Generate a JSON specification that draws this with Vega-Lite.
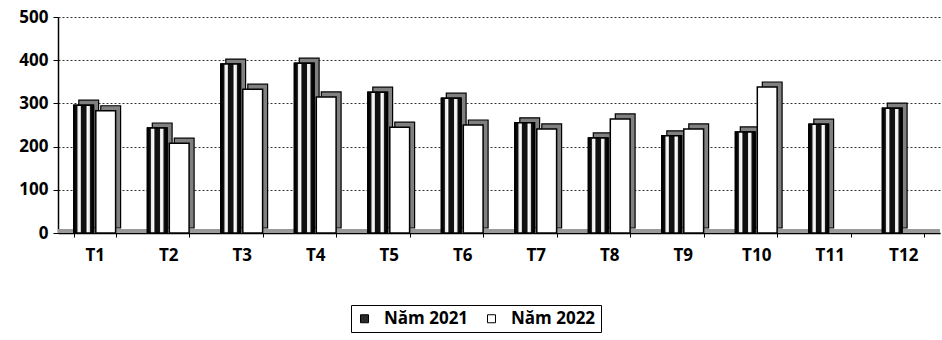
{
  "$schema": "https://vega.github.io/schema/vega-lite/v6.json",
  "width": 882,
  "height": 216,
  "autosize": {"type": "none"},
  "padding": {"left": 58, "top": 17, "right": 2, "bottom": 107},
  "background": "white",
  "config": {
    "view": {"stroke": null},
    "font": "Open Sans",
    "axis": {"labelFont": "Open Sans", "labelFontWeight": "bold", "labelFontSize": 17, "labelColor": "black", "domainColor": "black", "tickColor": "black", "title": null}
  },
  "data": {
    "values": [
      {"thang": "T1", "nam": "Năm 2021", "gia_tri": 296},
      {"thang": "T1", "nam": "Năm 2022", "gia_tri": 283},
      {"thang": "T2", "nam": "Năm 2021", "gia_tri": 243},
      {"thang": "T2", "nam": "Năm 2022", "gia_tri": 208},
      {"thang": "T3", "nam": "Năm 2021", "gia_tri": 391},
      {"thang": "T3", "nam": "Năm 2022", "gia_tri": 333},
      {"thang": "T4", "nam": "Năm 2021", "gia_tri": 393},
      {"thang": "T4", "nam": "Năm 2022", "gia_tri": 315},
      {"thang": "T5", "nam": "Năm 2021", "gia_tri": 326},
      {"thang": "T5", "nam": "Năm 2022", "gia_tri": 245},
      {"thang": "T6", "nam": "Năm 2021", "gia_tri": 312},
      {"thang": "T6", "nam": "Năm 2022", "gia_tri": 250},
      {"thang": "T7", "nam": "Năm 2021", "gia_tri": 255},
      {"thang": "T7", "nam": "Năm 2022", "gia_tri": 241},
      {"thang": "T8", "nam": "Năm 2021", "gia_tri": 220},
      {"thang": "T8", "nam": "Năm 2022", "gia_tri": 264},
      {"thang": "T9", "nam": "Năm 2021", "gia_tri": 225},
      {"thang": "T9", "nam": "Năm 2022", "gia_tri": 241},
      {"thang": "T10", "nam": "Năm 2021", "gia_tri": 234},
      {"thang": "T10", "nam": "Năm 2022", "gia_tri": 338},
      {"thang": "T11", "nam": "Năm 2021", "gia_tri": 252},
      {"thang": "T12", "nam": "Năm 2021", "gia_tri": 289}
    ]
  },
  "encoding": {
    "x": {
      "field": "thang", "type": "nominal", "sort": null,
      "scale": {"paddingInner": 0.43, "paddingOuter": 0.215},
      "axis": {"labelAngle": 0, "tickBand": "extent", "tickSize": 4, "labelPadding": 10, "domainWidth": 1.5, "labelFontSize": 17}
    },
    "y": {
      "field": "gia_tri", "type": "quantitative",
      "scale": {"domain": [0, 500], "nice": false},
      "axis": {"values": [0, 100, 200, 300, 400, 500], "tickSize": 5, "labelPadding": 5, "domainWidth": 1.5, "grid": true, "gridColor": "black", "gridDash": [2, 2], "gridWidth": 0.8, "labelFontSize": 17}
    }
  },
  "resolve": {"scale": {"xOffset": "independent"}},
  "layer": [
    {
      "mark": {"type": "rule", "color": "#999999", "strokeWidth": 3, "yOffset": -2},
      "encoding": {"y": {"datum": 0}, "x": null}
    },
    {
      "mark": {"type": "bar", "fill": "#808080", "stroke": "black", "strokeWidth": 1.2, "yOffset": -5, "y2Offset": -5},
      "encoding": {
        "xOffset": {"field": "nam", "type": "nominal", "scale": {"paddingInner": 0.1, "range": [5, 46.8]}}
      }
    },
    {
      "mark": {"type": "bar", "stroke": "black", "strokeWidth": 1.5},
      "encoding": {
        "xOffset": {"field": "nam", "type": "nominal", "scale": {"paddingInner": 0.1, "range": [0, 41.8]}},
        "color": {
          "field": "nam", "type": "nominal",
          "scale": {"domain": ["Năm 2021", "Năm 2022"], "range": ["#2a2a2a", "#ffffff"]},
          "legend": {
            "title": null, "orient": "none", "legendX": 293, "legendY": 288, "direction": "horizontal",
            "strokeColor": "black", "padding": 5, "symbolType": "square", "symbolSize": 64,
            "symbolStrokeColor": "black", "symbolStrokeWidth": 1, "labelOffset": 11,
            "labelFont": "Open Sans", "labelFontWeight": "bold", "labelFontSize": 17, "labelColor": "black",
            "columnPadding": 14
          }
        }
      }
    },
    {
      "transform": [{"filter": "datum.nam === 'Năm 2021'"}],
      "mark": {
        "type": "bar", "stroke": "black", "strokeWidth": 1.5, "width": 19,
        "fill": {
          "gradient": "linear", "x1": 0, "x2": 1, "y1": 0, "y2": 0,
          "stops": [
            {"offset": 0, "color": "#000000"},
            {"offset": 0.14, "color": "#111111"},
            {"offset": 0.2, "color": "#e8e8e8"},
            {"offset": 0.32, "color": "#ffffff"},
            {"offset": 0.38, "color": "#111111"},
            {"offset": 0.62, "color": "#111111"},
            {"offset": 0.68, "color": "#ffffff"},
            {"offset": 0.8, "color": "#e8e8e8"},
            {"offset": 0.86, "color": "#111111"},
            {"offset": 1, "color": "#000000"}
          ]
        }
      },
      "encoding": {
        "xOffset": {"field": "nam", "type": "nominal", "scale": {"domain": ["Năm 2021", "Năm 2022"], "paddingInner": 0.1, "range": [0, 41.8]}}
      }
    }
  ]
}
